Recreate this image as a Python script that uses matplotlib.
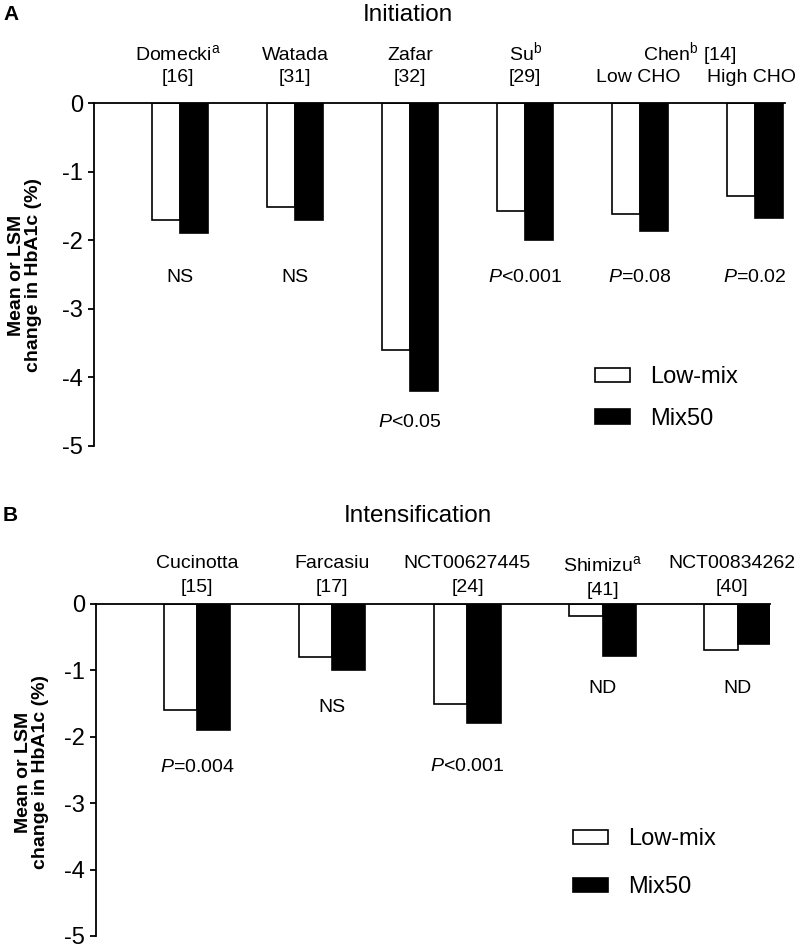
import numpy as np
import matplotlib
matplotlib.use("Agg")
from matplotlib import pyplot as plt
from matplotlib.patches import Patch

plt.rcParams['font.family'] = ['Liberation Sans', 'DejaVu Sans']
plt.rcParams['mathtext.fontset'] = 'custom'
plt.rcParams['mathtext.rm'] = 'Liberation Sans'
plt.rcParams['mathtext.it'] = 'Liberation Sans:italic'
plt.rcParams['axes.unicode_minus'] = False

# panel A - initiation
a_line1 = ["Domecki$^{\\rm a}$", "Watada", "Zafar", "Su$^{\\rm b}$", "", ""]
a_line2 = ["[16]", "[31]", "[32]", "[29]", "Low CHO", "High CHO"]
a_low = [-1.7, -1.52, -3.6, -1.57, -1.62, -1.35]
a_mix = [-1.9, -1.7, -4.2, -2.0, -1.86, -1.67]
a_pvals = ["NS", "NS", "$\\it{P}$<0.05", "$\\it{P}$<0.001", "$\\it{P}$=0.08", "$\\it{P}$=0.02"]

# panel B - intensification
b_line1 = ["Cucinotta", "Farcasiu", "NCT00627445", "Shimizu$^{\\rm a}$", "NCT00834262"]
b_line2 = ["[15]", "[17]", "[24]", "[41]", "[40]"]
b_low = [-1.6, -0.8, -1.5, -0.18, -0.69]
b_mix = [-1.9, -1.0, -1.79, -0.79, -0.6]
b_pvals = ["$\\it{P}$=0.004", "NS", "$\\it{P}$<0.001", "ND", "ND"]

yticks = [0, -1, -2, -3, -4, -5]

W, H = 798, 950
fig = plt.figure(figsize=(W / 100, H / 100), dpi=100)


def px(x0, y0, x1, y1):
    # pixel box (top-left origin) -> figure fraction rect
    return [x0 / W, 1 - y1 / H, (x1 - x0) / W, (y1 - y0) / H]


def panel(rect, low, mix, line1, line2, pvals, pval_y, xmax, lab_y, lab_dx, lab_dy):
    ax = fig.add_axes(rect)
    x = np.arange(len(low))
    w = 0.245
    ax.bar(x - w / 2, low, w, color="white", edgecolor="black", linewidth=1.2, label="Low-mix")
    ax.bar(x + w / 2, mix, w, color="black", edgecolor="black", linewidth=1.2, label="Mix50")
    ax.set_xlim(-0.75, xmax)
    ax.set_ylim(-5, 0)
    ax.set_yticks(yticks)
    ax.set_yticklabels([str(t) for t in yticks])
    ax.set_xticks([])
    for s in ["right", "bottom"]:
        ax.spines[s].set_visible(False)
    ax.spines["left"].set_linewidth(1.3)
    ax.spines["top"].set_linewidth(1.3)
    ax.tick_params(axis="y", labelsize=17, length=4, width=1.3, pad=4)
    for i in range(len(low)):
        tx = x[i] + lab_dx[i]
        if line1[i]:
            ax.text(tx, lab_y[0] + lab_dy[i], line1[i], ha="center", va="baseline",
                    fontsize=14, clip_on=False)
        ax.text(tx, lab_y[1] + lab_dy[i], line2[i], ha="center", va="baseline",
                fontsize=14, clip_on=False)
        ax.text(x[i], pval_y[i], pvals[i], ha="center", va="center", fontsize=14)
    return ax


ax1 = panel(px(94, 103, 785, 446), a_low, a_mix, a_line1, a_line2, a_pvals,
            [-2.54, -2.54, -4.66, -2.54, -2.54, -2.54], 5.26, (0.627, 0.306),
            [-0.02, 0, 0, 0, -0.02, -0.03], [0] * 6)
ax1.text(4.43, 0.627, "Chen$^{\\rm b}$ [14]", ha="center", va="baseline", fontsize=14, clip_on=False)

ax2 = panel(px(96, 604, 770, 936), b_low, b_mix, b_line1, b_line2, b_pvals,
            [-2.46, -1.56, -2.44, -1.27, -1.27], 4.24, (0.54, 0.18),
            [0, 0, 0, 0, -0.04], [0, 0, 0, -0.045, 0])

handles = [Patch(facecolor="white", edgecolor="black", linewidth=1.2, label="Low-mix"),
           Patch(facecolor="black", edgecolor="black", linewidth=1.2, label="Mix50")]
for ax, (lx, ly), sp in [(ax1, (595, 366), 0.84), (ax2, (573, 828), 1.1)]:
    ax.legend(handles=handles, loc="upper left", bbox_to_anchor=(lx / W, 1 - ly / H),
              bbox_transform=fig.transFigure, frameon=False, fontsize=17,
              borderpad=0, borderaxespad=0, handlelength=1.5, handleheight=0.55,
              handletextpad=0.85, labelspacing=sp)

fig.text(408 / W, 1 - 21 / H, "Initiation", ha="center", va="baseline", fontsize=17.5)
fig.text(418 / W, 1 - 522 / H, "Intensification", ha="center", va="baseline", fontsize=17.5)
fig.text(3 / W, 1 - 20 / H, "A", ha="left", va="baseline", fontsize=15, fontweight="bold")
fig.text(3 / W, 1 - 521 / H, "B", ha="left", va="baseline", fontsize=15, fontweight="bold")

ylab = "Mean or LSM\nchange in HbA1c (%)"
fig.text(25 / W, 1 - 275 / H, ylab, rotation=90, ha="center", va="center",
         fontsize=14, fontweight="bold", linespacing=1.05)
fig.text(32 / W, 1 - 772 / H, ylab, rotation=90, ha="center", va="center",
         fontsize=14, fontweight="bold", linespacing=1.05)

fig.savefig("out.png", dpi=100)
